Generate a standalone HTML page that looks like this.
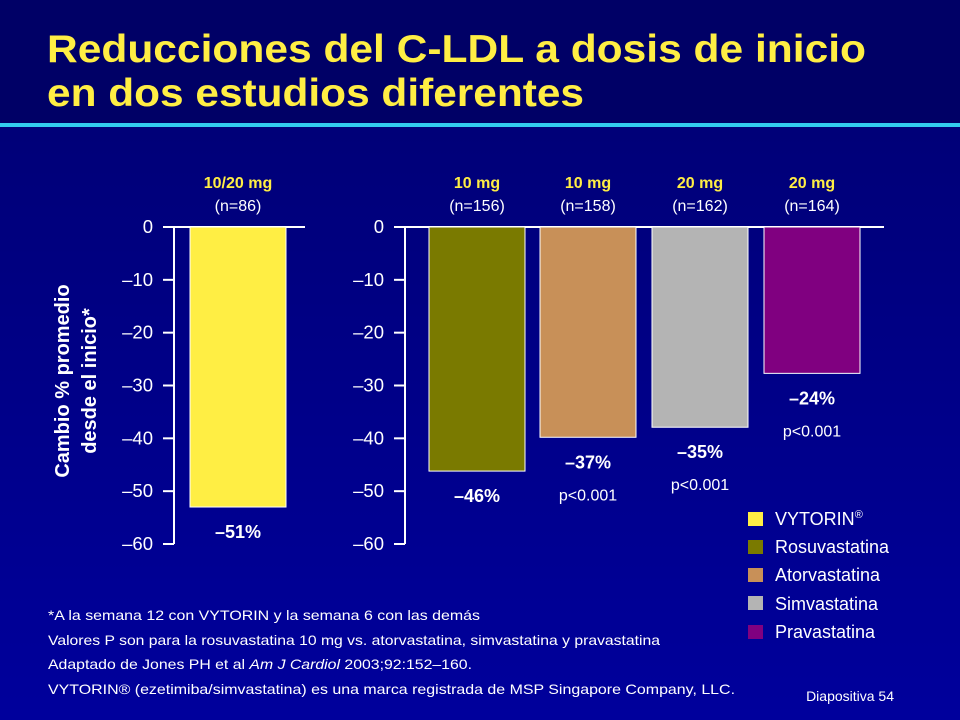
<!DOCTYPE html>
<html><head><meta charset="utf-8"><style>
html,body{margin:0;padding:0;background:#000080}
svg{display:block;font-family:"Liberation Sans",Arial,sans-serif}
</style></head><body>
<svg width="960" height="720" viewBox="0 0 960 720">
<defs><linearGradient id="bg" x1="0" y1="0" x2="0" y2="1"><stop offset="0" stop-color="#000070"/><stop offset="1" stop-color="#00009c"/></linearGradient></defs>
<rect x="0" y="0" width="960" height="720" fill="url(#bg)"/>
<rect x="0" y="0" width="960" height="124" fill="#000066"/>
<rect x="0" y="123" width="960" height="4" fill="#33ccee"/>
<text x="47" y="62" font-size="39" font-weight="bold" fill="#ffee44" textLength="819" lengthAdjust="spacingAndGlyphs">Reducciones del C-LDL a dosis de inicio</text>
<text x="47" y="106" font-size="39" font-weight="bold" fill="#ffee44" textLength="537" lengthAdjust="spacingAndGlyphs">en dos estudios diferentes</text>
<g id="chart"></g>
<text transform="translate(69,381) rotate(-90)" text-anchor="middle" font-size="20" font-weight="bold" fill="#fff"><tspan x="0" dy="0">Cambio % promedio</tspan><tspan x="0" dy="27">desde el inicio*</tspan></text>
<g font-size="18" fill="#fff">
<rect x="748" y="512" width="15" height="14" fill="#ffee44"/><text x="775" y="525">VYTORIN<tspan font-size="11" dy="-7">®</tspan></text>
<rect x="748" y="540" width="15" height="14" fill="#7a7a00"/><text x="775" y="553">Rosuvastatina</text>
<rect x="748" y="568" width="15" height="14" fill="#c89058"/><text x="775" y="581">Atorvastatina</text>
<rect x="748" y="596" width="15" height="14" fill="#b4b4b4"/><text x="775" y="610">Simvastatina</text>
<rect x="748" y="625" width="15" height="14" fill="#800080"/><text x="775" y="638">Pravastatina</text>
</g>
<g font-size="14" fill="#fff">
<text x="48" y="620" textLength="432" lengthAdjust="spacingAndGlyphs">*A la semana 12 con VYTORIN y la semana 6 con las demás</text>
<text x="48" y="645" textLength="612" lengthAdjust="spacingAndGlyphs">Valores P son para la rosuvastatina 10 mg vs. atorvastatina, simvastatina y pravastatina</text>
<text x="48" y="669" textLength="424" lengthAdjust="spacingAndGlyphs">Adaptado de Jones PH et al <tspan font-style="italic">Am J Cardiol</tspan> 2003;92:152–160.</text>
<text x="48" y="694" textLength="687" lengthAdjust="spacingAndGlyphs">VYTORIN® (ezetimiba/simvastatina) es una marca registrada de MSP Singapore Company, LLC.</text>
</g>
<text x="894" y="701" font-size="14" fill="#fff" text-anchor="end">Diapositiva 54</text>
</svg>
<script>
const doses = ["10/20 mg","10 mg","10 mg","20 mg","20 mg"];
const nLabels = ["(n=86)","(n=156)","(n=158)","(n=162)","(n=164)"];
const barValues = [-53, -46.2, -39.8, -37.9, -27.7];
const valueLabels = ["–51%","–46%","–37%","–35%","–24%"];
const pLabels = ["","","p<0.001","p<0.001","p<0.001"];
const yTicks = [0,-10,-20,-30,-40,-50,-60];
const barColors = ["#ffee44","#7a7a00","#c89058","#b4b4b4","#800080"];
const barNames = ["vytorin","rosuvastatina","atorvastatina","simvastatina","pravastatina"];

const NS="http://www.w3.org/2000/svg";
const g=document.getElementById('chart');
function y(v){return 227+(-v)*(317/60);}
function mk(tag,attrs,txt){const e=document.createElementNS(NS,tag);for(const k in attrs)e.setAttribute(k,attrs[k]);if(txt!=null)e.textContent=txt;g.appendChild(e);return e;}
const panels=[{axisX:174,right:305,idx:[0]},{axisX:405,right:884,idx:[1,2,3,4]}];
const barX=[190,429,540,652,764], barW=96;
panels.forEach((p,pi)=>{
  const a=mk('line',{x1:p.axisX,y1:y(0),x2:p.axisX,y2:y(-60),stroke:'#fff','stroke-width':2});
  
  
  const z=mk('line',{x1:p.axisX-11,y1:y(0),x2:p.right,y2:y(0),stroke:'#fff','stroke-width':2});
  
  
  yTicks.forEach(t=>{
    const tl=mk('line',{x1:p.axisX-11,y1:y(t),x2:p.axisX,y2:y(t),stroke:'#fff','stroke-width':2});
    
    
    const tx=mk('text',{x:p.axisX-21,y:y(t)+6,'text-anchor':'end','font-size':18.5,fill:'#fff'},t===0?'0':'–'+(-t));
    
    
  });
});
barValues.forEach((v,i)=>{
  const cx=barX[i]+barW/2;
  const r=mk('rect',{x:barX[i],y:y(0),width:barW,height:y(v)-y(0),fill:barColors[i],stroke:'#fff','stroke-width':1});
  
  
  const d=mk('text',{x:cx,y:188,'text-anchor':'middle','font-size':16,'font-weight':'bold',fill:'#ffee44'},doses[i]);
  
  
  const n=mk('text',{x:cx,y:211,'text-anchor':'middle','font-size':16,fill:'#fff'},nLabels[i]);
  
  
  const vl=mk('text',{x:cx,y:y(v)+31,'text-anchor':'middle','font-size':18,'font-weight':'bold',fill:'#fff'},valueLabels[i]);
  
  
  if(pLabels[i]){
    const pl=mk('text',{x:cx,y:y(v)+63,'text-anchor':'middle','font-size':16,fill:'#fff'},pLabels[i]);
    
    
  }
});
</script>
</body></html>
